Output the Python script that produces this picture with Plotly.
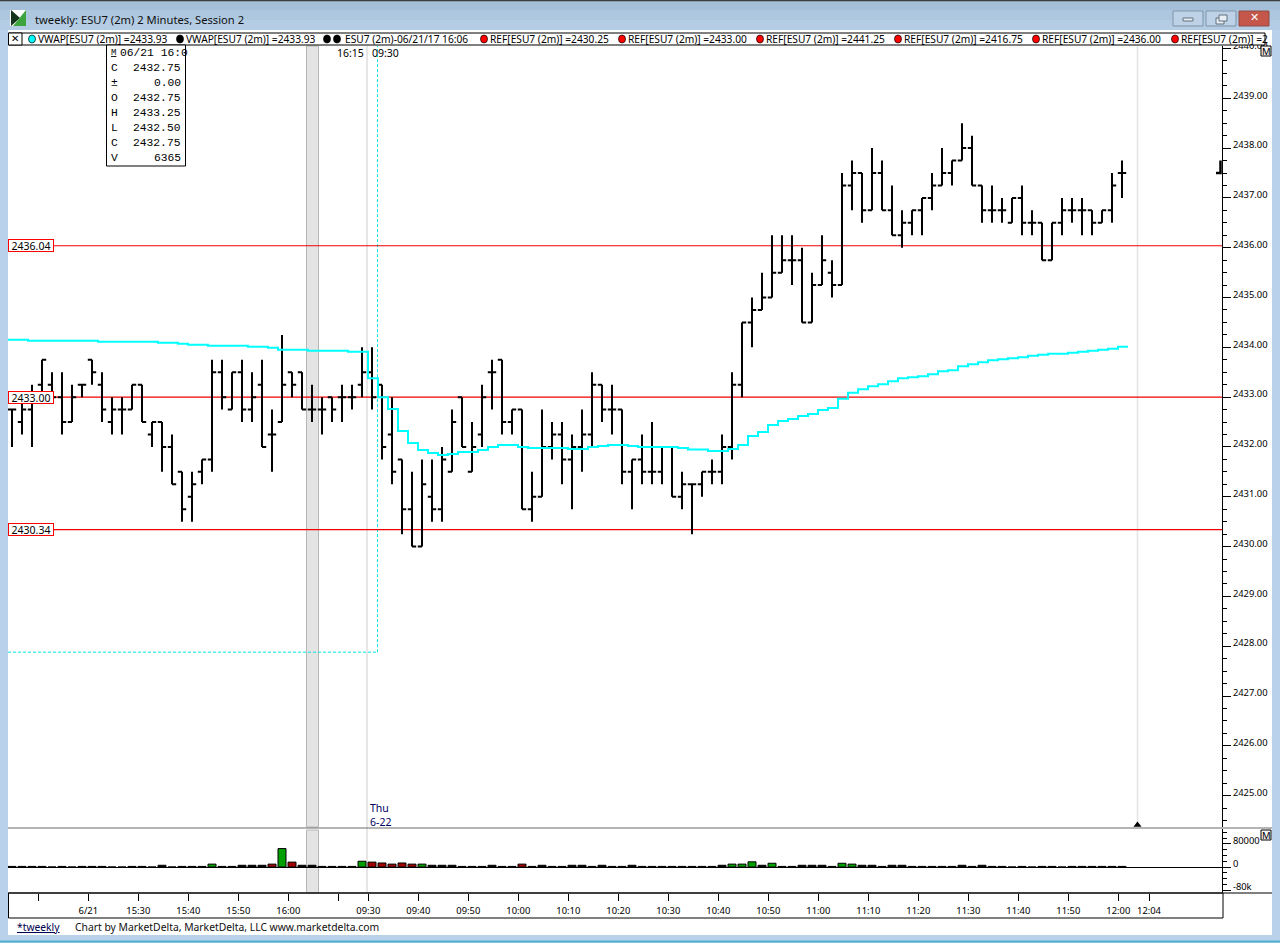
import plotly.graph_objects as go

# ---------- data ----------
bar_open = [
 2432.75,2432.5,2432.75,2433.25,2433.25,2433,2432.5,2433.25,2433.75,2433.25,
 2432.5,2432.75,2432.75,2433.25,2432.25,2432.5,2432,2431.5,2431,2431.5,
 2431.75,2433.5,2432.75,2433.5,2432.75,2433.25,2432.25,2432.5,2433.5,2433.5,
 2432.75,2432.75,2433,2433,2433,2433.25,2433.5,2433.25,2432.25,2431.75,
 2430.75,2430,2431,2430.75,2431.5,2433,2431.5,2432.25,2433.5,2433.75,
 2432.5,2432.75,2430.75,2431,2432,2432.25,2431.75,2432,2432.25,2433.25,
 2432.75,2432.75,2431.5,2431.75,2431.5,2431.5,2432,2431,2431.25,2431.25,
 2431.5,2431.5,2432,2433.25,2434.5,2434.75,2435,2435.5,2435.75,2435.75,
 2434.5,2435.25,2435.5,2435.25,2437.25,2437.5,2436.75,2437.5,2436.75,2436.25,
 2436.5,2436.75,2437,2437.25,2437.5,2437.75,2438,2437.25,2436.75,2436.75,
 2436.5,2437,2436.5,2436.5,2435.75,2436.5,2436.75,2436.75,2436.75,2436.5,2436.75,2437.5]
bar_high = [
 2432.75,2433,2433.25,2433.75,2433.5,2433.5,2433.25,2433.25,2433.75,2433.5,
 2433,2433,2433.25,2433.25,2432.5,2432.5,2432.25,2431.5,2431.5,2431.75,
 2433.75,2433.75,2433.5,2433.75,2433.5,2433.75,2432.75,2434.25,2433.5,2433.5,
 2433.25,2433,2433,2433.25,2433.25,2434,2434,2433.25,2433,2431.75,
 2431.5,2431.75,2431.75,2432,2432.75,2433,2432.5,2433.25,2433.75,2433.75,
 2432.75,2432.75,2431.5,2432.75,2432.5,2432.5,2432.25,2432.75,2433.5,2433.25,
 2433.25,2432.75,2431.75,2432.25,2432.5,2432,2432,2431.5,2431.25,2431.5,
 2431.75,2432.25,2433.5,2434.5,2435,2435.5,2436.25,2436.25,2436.25,2436,
 2435.5,2436.25,2435.75,2437.5,2437.75,2437.5,2438,2437.75,2437.25,2436.75,
 2436.75,2437,2437.5,2438,2437.75,2438.5,2438.25,2437.25,2437.25,2437,
 2437,2437.25,2436.75,2436.5,2436.5,2437,2437,2437,2436.75,2436.75,2437.5,2437.75]
bar_low = [
 2432,2432.25,2432,2433,2433,2432.25,2432.5,2433,2433.25,2432.5,
 2432.25,2432.25,2432.75,2432.5,2432,2431.5,2431.25,2430.5,2430.5,2431.25,
 2431.5,2432.75,2432.75,2432.5,2432.5,2432,2431.5,2432.5,2433,2432.75,
 2432.5,2432.25,2432.5,2432.5,2432.75,2433,2432.75,2431.75,2431.25,2430.25,
 2430,2430,2430.5,2430.5,2431.5,2432,2431.5,2432,2432.75,2432.25,
 2432.25,2430.75,2430.5,2431,2431.75,2431.25,2430.75,2431.5,2432,2432.5,
 2432.25,2431.25,2430.75,2431.25,2431.25,2431.25,2431,2430.75,2430.25,2431,
 2431.25,2431.25,2431.75,2433,2434,2434.75,2435,2435.5,2435.25,2434.5,
 2434.5,2435.25,2435,2435.25,2436.75,2436.5,2436.75,2436.75,2436.25,2436,
 2436.25,2436.25,2436.75,2437.25,2437.25,2437.75,2437.25,2436.5,2436.5,2436.5,
 2436.5,2436.25,2436.25,2435.75,2435.75,2436.25,2436.5,2436.25,2436.25,2436.5,2436.5,2437]
bar_close = [
 2432.75,2432.75,2433,2433.75,2433,2432.5,2433,2433.25,2433.5,2432.75,
 2432.75,2432.75,2433.25,2432.5,2432.5,2432,2431.25,2430.75,2431.25,2431.75,
 2433.5,2433,2433.5,2432.75,2433,2432,2432.25,2433.25,2433.25,2432.75,
 2432.75,2432.75,2432.75,2433,2433,2433.5,2433,2432,2431.5,2430.75,
 2430,2431.25,2430.75,2431.75,2432.5,2432,2432,2433,2433.5,2432.5,
 2432.75,2430.75,2431,2432,2432.25,2431.75,2432,2432.25,2433.25,2432.75,
 2432.75,2431.5,2431.75,2431.5,2431.5,2432,2431,2431.25,2431.25,2431.5,
 2431.5,2432,2433.25,2434.5,2434.75,2435,2435.5,2435.75,2435.75,2434.5,
 2435.25,2435.75,2435.25,2437.25,2437.5,2436.75,2437.5,2436.75,2436.25,2436.5,
 2436.75,2437,2437.25,2437.5,2437.75,2438,2437.25,2436.75,2436.75,2436.75,
 2437,2436.5,2436.5,2435.75,2436.5,2436.75,2436.75,2436.75,2436.5,2436.75,2437.25,2437.5]
vwap = [
 2434.15,2434.15,2434.13,2434.13,2434.13,2434.13,2434.13,2434.13,2434.13,2434.11,
 2434.11,2434.11,2434.11,2434.11,2434.11,2434.09,2434.09,2434.07,2434.05,2434.05,
 2434.03,2434.03,2434.03,2434.03,2434.01,2434.01,2433.99,2433.95,2433.95,2433.95,
 2433.93,2433.93,2433.93,2433.93,2433.91,2433.91,2433.38,2433.00,2432.76,2432.32,
 2432.08,2431.94,2431.88,2431.84,2431.86,2431.90,2431.90,2431.94,2432.00,2432.04,
 2432.04,2432.00,2431.98,2431.98,2431.98,2431.98,2431.96,2431.96,2432.00,2432.02,
 2432.04,2432.04,2432.02,2432.00,2432.00,2432.00,2432.00,2431.98,2431.95,2431.95,
 2431.92,2431.92,2431.96,2432.04,2432.22,2432.30,2432.44,2432.52,2432.56,2432.62,
 2432.66,2432.74,2432.78,2432.97,2433.09,2433.16,2433.22,2433.26,2433.32,2433.38,
 2433.40,2433.42,2433.46,2433.52,2433.54,2433.62,2433.66,2433.70,2433.74,2433.76,
 2433.78,2433.80,2433.83,2433.85,2433.87,2433.87,2433.89,2433.91,2433.93,2433.95,2433.97,2434.01]
volume = [
 2000,2000,2000,2000,0,2000,0,2000,2000,2000,
 0,0,2000,2000,0,6000,0,2000,2000,2000,
 10000,2000,2000,6000,6000,6000,10000,64000,17000,6000,
 6000,2000,2000,2000,2000,20000,17000,14000,10000,14000,
 10000,10000,6000,6000,6000,2000,2000,2000,6000,2000,
 2000,10000,2000,6000,2000,2000,6000,6000,2000,6000,
 2000,2000,6000,2000,2000,2000,2000,2000,2000,2000,
 2000,6000,10000,10000,18000,6000,13000,2000,2000,6000,
 6000,6000,2000,13000,10000,6000,6000,2000,6000,6000,
 2000,2000,2000,2000,2000,6000,2000,6000,2000,2000,
 0,2000,0,2000,2000,0,2000,2000,2000,2000,2000,2000]
ref_levels = [2436.04, 2433.00, 2430.34]
price_ticks = [2425,2426,2427,2428,2429,2430,2431,2432,2433,2434,2435,2436,2437,2438,2439,2440]
volume_ticks = [80000, 0, -80000]
volume_tick_labels = ["80000", "0", "-80k"]
time_tick_bars = [2,7,12,17,22,27,32,35,40,45,50,55,60,65,70,75,80,85,90,95,100,105,110,113.07]
time_tick_labels = ["","6/21","15:30","15:40","15:50","16:00","","09:30","09:40","09:50","10:00","10:10",
                    "10:20","10:30","10:40","10:50","11:00","11:10","11:20","11:30","11:40","11:50","12:00","12:04"]
info_rows = [("C","2432.75"),("±","0.00"),("O","2432.75"),("H","2433.25"),("L","2432.50"),("C","2432.75"),("V","6365")]
cursor_vwap_level = 2427.88
legend_ref_values = ["2430.25","2433.00","2441.25","2416.75","2436.00"]

# ---------- pixel helpers ----------
W, H = 1280, 943
PX0, PX1 = 8, 1222
def X(x): return x / W
def Y(y): return 1 - y / H
bar_x = list(range(len(bar_open)))
x_range = [-0.4, 121.0]
def bx(px): return (px - 12) / 10

shapes = []
annos = []
def rect(x0,y0,x1,y1,fill=None,line=None,w=1,layer="below",kind="rect"):
    shapes.append(dict(type=kind,xref="paper",yref="paper",x0=X(x0),x1=X(x1),y0=Y(y0),y1=Y(y1),
        fillcolor=fill or "rgba(0,0,0,0)",line=dict(color=line or "rgba(0,0,0,0)",width=w if line else 0),layer=layer))
def hline(x0,x1,y,color,w=1,layer="below",dash="solid"):
    shapes.append(dict(type="line",xref="paper",yref="paper",x0=X(x0),x1=X(x1),y0=Y(y),y1=Y(y),line=dict(color=color,width=w,dash=dash),layer=layer))
def vline(x,y0,y1,color,w=1,layer="below",dash="solid"):
    shapes.append(dict(type="line",xref="paper",yref="paper",x0=X(x),x1=X(x),y0=Y(y0),y1=Y(y1),line=dict(color=color,width=w,dash=dash),layer=layer))
def poly(pts,fill,layer="above"):
    d = "M"+" L".join(f"{X(a):.5f},{Y(b):.5f}" for a,b in pts)+" Z"
    shapes.append(dict(type="path",xref="paper",yref="paper",path=d,fillcolor=fill,line=dict(width=0),layer=layer))
def text(x,y,s,size=11,color="#000",font="Noto Sans",anchor="left",**kw):
    annos.append(dict(xref="paper",yref="paper",x=X(x),y=Y(y),text=s,showarrow=False,xanchor=anchor,yanchor="middle",
                      font=dict(size=size,color=color,family=font),borderpad=0,**kw))

# window chrome
rect(0,0,1280,30,fill="#b4cde4")
rect(0,0,1280,10,fill="#a5bfd8")
rect(0,10,1280,20,fill="#adc7df")
hline(0,1280,0.5,"#3c3c3c",1.5)
rect(8,30,1272,935,fill="#ffffff")
hline(0,1280,941.5,"#4fb2cf",2)
# icon
poly([(10,10),(26,10),(26,26),(10,26)],"#ffffff")
poly([(11,10),(20,18),(11,26)],"#14331c")
poly([(26,10),(26,26),(13,26)],"#3ea53e")
text(34,19,"tweekly: ESU7 (2m) 2 Minutes, Session 2",size=11.2,color="#101010")
# window buttons
for x0,fill in [(1173,"#bdd2e6"),(1206,"#bdd2e6")]:
    rect(x0,11,x0+30,26,fill=fill,line="#7f93a8",layer="above")
rect(1239,11,1269,26,fill="#c4574a",line="#8e4b45",layer="above")
rect(1183,18,1193,21,fill="#e8eef4",line="#60707f",layer="above")
rect(1216,18,1224,24,fill="#e8eef4",line="#60707f",layer="above")
rect(1219,15,1227,21,fill="#e8eef4",line="#60707f",layer="above")
text(1254,18,"<b>✕</b>",size=11,color="#ffffff",anchor="center",font="DejaVu Sans")

# session band + vertical guides
for y0,y1 in [(46,827),(830,893)]:
    rect(306.5,y0,318.5,y1,fill="#e4e4e4",line="#b6b6b6")
vline(367,46,893,"#e6e6e6",2)
vline(1137.5,46,826,"#e4e4e4",1.5)
# cursor guide
shapes.append(dict(type="line",xref="paper",yref="y",x0=X(PX0),x1=X(377.5),y0=cursor_vwap_level,y1=cursor_vwap_level,
                   line=dict(color="#00e6e6",width=1,dash="3px,2px"),layer="below"))
shapes.append(dict(type="line",xref="paper",yref="y",x0=X(377.5),x1=X(377.5),y0=cursor_vwap_level,y1=2440.05,
                   line=dict(color="#00e6e6",width=1,dash="3px,2px"),layer="below"))
# reference lines + labels
for lv in ref_levels:
    shapes.append(dict(type="line",xref="paper",yref="y",x0=X(PX0),x1=X(PX1),y0=lv,y1=lv,line=dict(color="#f00000",width=1.1),layer="below"))
    annos.append(dict(xref="paper",yref="y",x=X(8),y=lv,xanchor="left",yanchor="middle",showarrow=False,
                      text=f"{lv:.2f}",font=dict(size=10.5,color="#000",family="Noto Sans"),bgcolor="#ffffff",
                      bordercolor="#ff0000",borderwidth=1,borderpad=0,width=44,height=11,align="center"))
# pane dividers and time box
hline(8,1272,828,"#6a6a6a",1,layer="above")
hline(8,1272,893,"#555555",1.5,layer="above")
rect(8.5,893,1223,918,line="#000000",layer="above")
# header strip
rect(8.5,33,1265,45,fill="#ffffff",line="#000000",layer="above")
rect(8.5,33,22,45,fill="#ffffff",line="#000000",layer="above")
text(15.2,39,"✕",size=10,anchor="center",font="DejaVu Sans")
def dot(x,color):
    rect(x-3.5,35,x+3.5,43,fill=color,line="#000000",w=0.7,layer="above",kind="circle")
HDR = 10.2
dot(32,"#00ffff"); text(37,39,"VWAP[ESU7 (2m)] =2433.93",size=HDR)
dot(180,"#000000"); text(185,39,"VWAP[ESU7 (2m)] =2433.93",size=HDR)
dot(327,"#000000"); dot(337,"#000000"); text(344,39,"ESU7 (2m)-06/21/17 16:06",size=HDR)
for k,v in enumerate(legend_ref_values):
    x = 484 + 138*k
    dot(x,"#ff0000"); text(x+5,39,f"REF[ESU7 (2m)] ={v}",size=HDR)
dot(1175,"#ff0000"); text(1180,39,"REF[ESU7 (2m)] =2",size=HDR)
# M boxes
for y0 in (46,830):
    rect(1261,y0,1271,y0+10,fill="#f4f4f4",line="#000000",layer="above")
    text(1266,y0+5,"M",size=9.5,anchor="center")
# info box
rect(106.5,45,185.5,166,fill="#ffffff",line="#000000",layer="above")
MONO = "Liberation Mono"
text(110,53,"<u>M</u>",size=9,font=MONO)
text(118.5,53,"06/21 16:0",size=11.3,font=MONO)
for k,(lab,val) in enumerate(info_rows):
    yy = 68 + 15*k
    text(110,yy,lab,size=11.3,font=MONO)
    text(182,yy,val,size=11.3,font=MONO,anchor="right")
# floating texts
text(336,53,"16:15",size=10.5)
text(371,53,"09:30",size=10.5)
text(369,808,"Thu",size=10.5,color="#000060")
text(369,822,"6-22",size=10.5,color="#000060")
# footer
text(16,927,"<u>*tweekly</u>",size=10.3,color="#000050")
text(74,927,"Chart by MarketDelta, MarketDelta, LLC www.marketdelta.com",size=10.35,color="#101010")

# ---------- traces ----------
fig = go.Figure()
fig.add_trace(go.Ohlc(x=bar_x,open=bar_open,high=bar_high,low=bar_low,close=bar_close,
    increasing=dict(line=dict(color="#000000",width=2)),decreasing=dict(line=dict(color="#000000",width=2)),
    tickwidth=0.42,xaxis="x",yaxis="y",showlegend=False,hoverinfo="skip"))
fig.add_trace(go.Scatter(x=[i-0.4 for i in bar_x]+[bar_x[-1]+0.6],y=vwap+[vwap[-1]],mode="lines",
    line=dict(color="#00ffff",width=2,shape="hv"),xaxis="x",yaxis="y",showlegend=False,hoverinfo="skip"))
# last price marker on the axis and the session-end triangle
fig.add_trace(go.Scatter(x=[120.4,120.85,120.85],y=[bar_close[-1],bar_close[-1],bar_high[-1]],mode="lines",
    line=dict(color="#000000",width=2.5),cliponaxis=False,xaxis="x",yaxis="y",showlegend=False,hoverinfo="skip"))
fig.add_trace(go.Scatter(x=[bx(1137.5)],y=[2424.41],mode="markers",marker=dict(symbol="triangle-up",size=7,color="#000000"),
    cliponaxis=False,xaxis="x",yaxis="y",showlegend=False,hoverinfo="skip"))
vol_colors = ["#000000" if v < 8000 else ("#00a000" if c>o else "#a00000") for v,o,c in zip(volume,bar_open,bar_close)]
fig.add_trace(go.Bar(x=bar_x,y=volume,width=0.8,marker=dict(color=vol_colors,line=dict(color="#000000",width=1)),
    xaxis="x2",yaxis="y2",showlegend=False,hoverinfo="skip"))
# transparent carriers so the label axes (offset a few pixels above their ticks) are drawn
fig.add_trace(go.Scatter(x=bar_x[:1],y=price_ticks[:1],mode="markers",marker=dict(opacity=0),
    xaxis="x",yaxis="y3",showlegend=False,hoverinfo="skip"))
fig.add_trace(go.Scatter(x=bar_x[:1],y=volume_ticks[1:2],mode="markers",marker=dict(opacity=0),
    xaxis="x2",yaxis="y4",showlegend=False,hoverinfo="skip"))

LABEL_FONT = dict(size=9.4,color="#000000",family="Noto Sans")
fig.update_layout(
    width=W,height=H,margin=dict(l=0,r=0,t=0,b=0),autosize=False,
    paper_bgcolor="#b9d1ea",plot_bgcolor="rgba(0,0,0,0)",showlegend=False,bargap=0.2,
    shapes=shapes,annotations=annos,
    xaxis=dict(domain=[X(PX0),X(PX1)],anchor="y",range=x_range,showgrid=False,zeroline=False,showline=False,automargin=False,
               showticklabels=False,ticks="",rangeslider=dict(visible=False)),
    xaxis2=dict(domain=[X(PX0),X(PX1)],anchor="y2",range=x_range,showgrid=False,zeroline=False,showline=False,automargin=False,
                tickmode="array",tickvals=[b+0.63 for b in time_tick_bars],ticktext=time_tick_labels,
                ticks="outside",ticklen=7,tickcolor="#000000",tickwidth=1,tickfont=LABEL_FONT,tickangle=0,ticklabelstandoff=2),
    yaxis=dict(domain=[Y(827),Y(46)],anchor="x",side="right",range=[2424.37,2440.05],showgrid=False,zeroline=False,automargin=False,
               showline=True,linecolor="#000000",linewidth=1,tickmode="array",tickvals=price_ticks,showticklabels=False,
               ticks="outside",ticklen=8,tickcolor="#000000",
               minor=dict(tickmode="linear",dtick=0.25,ticks="outside",ticklen=4,tickcolor="#000000")),
    yaxis3=dict(domain=[Y(824),Y(43)],anchor="x",side="right",range=[2424.37,2440.05],showgrid=False,zeroline=False,automargin=False,
                showline=False,tickmode="array",tickvals=price_ticks,ticktext=[f"{v:.2f}" for v in price_ticks],
                ticks="outside",ticklen=8,tickcolor="rgba(0,0,0,0)",tickfont=LABEL_FONT),
    yaxis2=dict(domain=[Y(893),Y(829)],anchor="x2",side="right",range=[-90400,132100],showgrid=False,automargin=False,
                zeroline=True,zerolinecolor="#000000",zerolinewidth=1,showline=True,linecolor="#000000",linewidth=1,
                tickmode="array",tickvals=volume_ticks,showticklabels=False,ticks="outside",ticklen=8,tickcolor="#000000",
                minor=dict(tickmode="linear",dtick=20000,ticks="outside",ticklen=4,tickcolor="#000000")),
    yaxis4=dict(domain=[Y(890),Y(826)],anchor="x2",side="right",range=[-90400,132100],showgrid=False,zeroline=False,automargin=False,
                showline=False,tickmode="array",tickvals=volume_ticks,ticktext=volume_tick_labels,
                ticks="outside",ticklen=8,tickcolor="rgba(0,0,0,0)",tickfont=LABEL_FONT),
)
fig.write_html("out.html",config=dict(displayModeBar=False),
    post_script="document.body.style.margin='0';document.documentElement.style.overflow='hidden';")
